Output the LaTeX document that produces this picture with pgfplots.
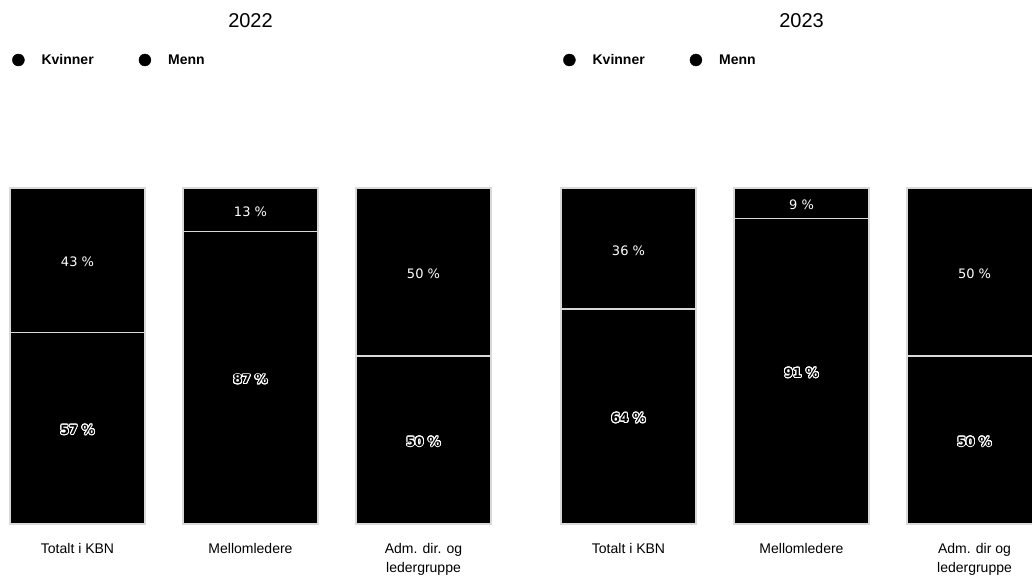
\documentclass[border=0pt]{standalone}
\usepackage{pgfplots}
\pgfplotsset{compat=1.18}
\usepackage{fontspec}
\setmainfont{Liberation Sans}
\newfontfamily\dejavu{DejaVu Sans}
\usepackage{contour}
\contourlength{0.9pt}
\contournumber{24}

\pgfplotstableread{
x kvinner menn
0 57 43
1 87 13
2 50 50
}\dataA
\pgfplotstableread{
x kvinner menn
0 64 36
1 91 9
2 50 50
}\dataB

\pgfplotsset{
  panel/.style={
    scale only axis, width=519pt, height=336pt,
    xmin=-0.5, xmax=2.5, ymin=0, ymax=100,
    axis line style={draw=none}, ytick=\empty, xtick={0,1,2},
    major tick length=0pt, clip=false,
    xticklabel style={align=center, anchor=north, yshift=-16pt,
      font=\fontsize{14}{19}\selectfont},
  },
  bars/.style={panel, ybar stacked, bar width=135pt,
    title style={font=\fontsize{20}{24}\selectfont, at={(0.5,1)}, anchor=center, yshift=161pt},
  },
  segment/.style={fill=black, draw=white!85!black, line width=1.2pt},
  labels/.style={panel, xticklabels={},
    legend style={draw=none, fill=none, legend columns=2, at={(rel axis cs:0,1)},
      anchor=west, xshift=21pt, yshift=128pt, inner sep=0pt,
      font=\bfseries\fontsize{14}{16}\selectfont,
      /tikz/every odd column/.append style={column sep=15pt},
      /tikz/every even column/.append style={column sep=43pt}},
  },
  dot/.style={legend image code/.code={\fill[black] (0pt,0pt) circle (6pt);}},
  plain lbl/.style={draw=none, mark=none, nodes near coords={\pgfplotspointmeta~\%},
    point meta=explicit symbolic,
    every node near coord/.style={anchor=center, yshift=-2pt, text=white, font=\dejavu\fontsize{13}{14}\selectfont}},
  outl lbl/.style={draw=none, mark=none, nodes near coords={\contour{white}{\pgfplotspointmeta~\%}},
    point meta=explicit symbolic,
    every node near coord/.style={anchor=center, yshift=-2pt, text=black, font=\dejavu\bfseries\fontsize{12.5}{14}\selectfont}},
}

\begin{document}
\begin{tikzpicture}
\useasboundingbox (0,0) rectangle (1032pt,576pt);
% ---- 2022 ----
\begin{axis}[bars, at={(-9pt,52pt)}, anchor=south west, title={2022},
  xticklabels={Totalt i KBN, Mellomledere, {Adm. dir. og\\ledergruppe}}]
\addplot[segment] table[x=x, y=kvinner] {\dataA};
\addplot[segment] table[x=x, y=menn] {\dataA};
\end{axis}
\begin{axis}[labels, at={(-9pt,52pt)}, anchor=south west]
\addlegendimage{dot}\addlegendentry{Kvinner}
\addlegendimage{dot}\addlegendentry{Menn}
\addplot[outl lbl] coordinates {(0,28.5)[57] (1,43.5)[87] (2,25)[50]};
\addplot[plain lbl] coordinates {(0,78.5)[43] (1,93.5)[13] (2,75)[50]};
\end{axis}
% ---- 2023 ----
\begin{axis}[bars, at={(542pt,52pt)}, anchor=south west, title={2023},
  xticklabels={Totalt i KBN, Mellomledere, {Adm. dir og\\ledergruppe}}]
\addplot[segment] table[x=x, y=kvinner] {\dataB};
\addplot[segment] table[x=x, y=menn] {\dataB};
\end{axis}
\begin{axis}[labels, at={(542pt,52pt)}, anchor=south west]
\addlegendimage{dot}\addlegendentry{Kvinner}
\addlegendimage{dot}\addlegendentry{Menn}
\addplot[outl lbl] coordinates {(0,32)[64] (1,45.5)[91] (2,25)[50]};
\addplot[plain lbl] coordinates {(0,82)[36] (1,95.5)[9] (2,75)[50]};
\end{axis}
\end{tikzpicture}
\end{document}
